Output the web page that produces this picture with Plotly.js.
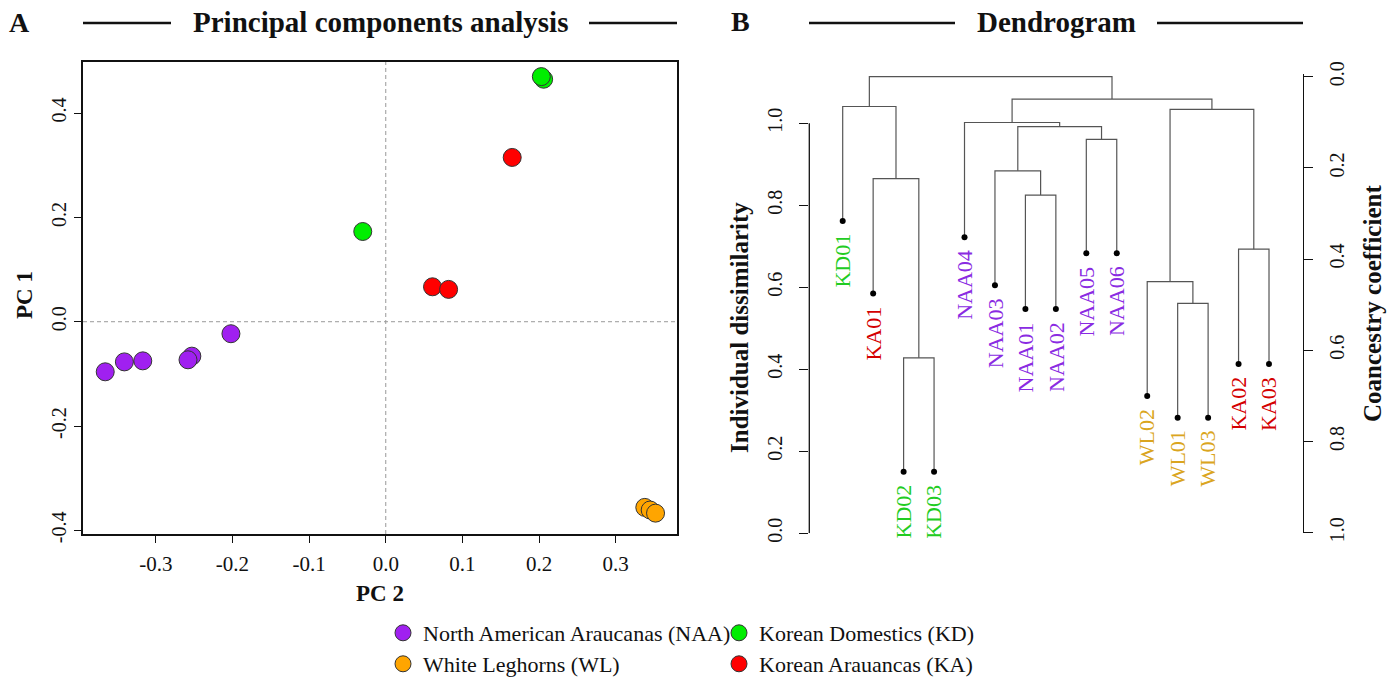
<!DOCTYPE html>
<html>
<head>
<meta charset="utf-8">
<script src="https://cdn.plot.ly/plotly-3.0.1.min.js"></script>
<style>html,body{margin:0;padding:0;background:#fff;}#chart{width:1394px;height:678px;}</style>
</head>
<body>
<div id="chart"></div>
<script>
// ---------- PCA data ----------
const groupNames = ['North American Araucanas (NAA)', 'White Leghorns (WL)', 'Korean Domestics (KD)', 'Korean Arauancas (KA)'];
const groupColors = ['#a020f0', '#ffa500', '#00ee00', '#ff0000'];
const naaPC2 = [-0.366, -0.341, -0.317, -0.253, -0.258, -0.202];
const naaPC1 = [-0.096, -0.077, -0.075, -0.066, -0.073, -0.023];
const wlPC2 = [0.338, 0.345, 0.352];
const wlPC1 = [-0.356, -0.361, -0.367];
const kdPC2 = [-0.030, 0.206, 0.203];
const kdPC1 = [0.173, 0.465, 0.470];
const kaPC2 = [0.165, 0.061, 0.082];
const kaPC1 = [0.315, 0.067, 0.062];
const pcaXTicks = [-0.3, -0.2, -0.1, 0.0, 0.1, 0.2, 0.3];
const pcaYTicks = [-0.4, -0.2, 0.0, 0.2, 0.4];

// ---------- Dendrogram data ----------
const leafLabels = ['KD01','KA01','KD02','KD03','NAA04','NAA03','NAA01','NAA02','NAA05','NAA06','WL02','WL01','WL03','KA02','KA03'];
const leafGroups = ['KD','KA','KD','KD','NAA','NAA','NAA','NAA','NAA','NAA','WL','WL','WL','KA','KA'];
const leafHeights = [0.762,0.585,0.150,0.150,0.722,0.605,0.547,0.547,0.683,0.683,0.335,0.282,0.282,0.413,0.413];
const mergeLeft  = [-3,-7,-9,-12,-14,-11,-6,-2, 7,-5, 6,-1,10,12];
const mergeRight = [-4,-8,-10,-13,-15, 4, 2, 1, 3, 9, 5, 8,11,13];
const mergeHeights = [0.428,0.825,0.961,0.561,0.693,0.614,0.884,0.865,0.992,1.002,1.034,1.041,1.059,1.114];
const dissimTicks = [0.0, 0.2, 0.4, 0.6, 0.8, 1.0];
const coanTicks = [0.0, 0.2, 0.4, 0.6, 0.8, 1.0];
const labelColors = {NAA: '#8a2be2', WL: '#daa520', KD: '#22cc22', KA: '#d40000'};

// ---------- helpers ----------
const W = 1394, H = 678;
const px = v => v / W;
const py = v => 1 - v / H;

// ---------- PCA traces ----------
const pcaSets = [[naaPC2, naaPC1, 'legend'], [wlPC2, wlPC1, 'legend2'], [kdPC2, kdPC1, 'legend'], [kaPC2, kaPC1, 'legend2']];
const traces = [];
const legendOrder = [0, 2, 1, 3];
pcaSets.forEach((s, i) => {
  traces.push({
    type: 'scatter', mode: 'markers', x: s[0], y: s[1], name: groupNames[i],
    legend: s[2], legendrank: legendOrder[i],
    marker: {size: 18, color: groupColors[i], line: {color: '#333', width: 1}},
    xaxis: 'x', yaxis: 'y', hoverinfo: 'x+y+name'
  });
});

// ---------- Dendrogram geometry ----------
const nodeX = [], nodeH = [];
function childX(c) { return c < 0 ? (-c) : nodeX[c - 1]; }
function childH(c) { return c < 0 ? leafHeights[-c - 1] : nodeH[c - 1]; }
const lx = [], ly = [];
for (let i = 0; i < mergeHeights.length; i++) {
  const a = mergeLeft[i], b = mergeRight[i];
  const xa = childX(a), xb = childX(b), ha = childH(a), hb = childH(b), h = mergeHeights[i];
  lx.push(xa, xa, xb, xb, null);
  ly.push(ha, h, h, hb, null);
  nodeX.push((xa + xb) / 2);
  nodeH.push(h);
}
const leafX = leafLabels.map((_, i) => i + 1);
traces.push({type: 'scatter', mode: 'lines', x: lx, y: ly, xaxis: 'x2', yaxis: 'y2',
  line: {color: '#555', width: 1.2}, showlegend: false, hoverinfo: 'skip'});
traces.push({type: 'scatter', mode: 'markers', x: leafX, y: leafHeights, text: leafLabels, xaxis: 'x2', yaxis: 'y2',
  marker: {color: '#000', size: 6}, showlegend: false, hoverinfo: 'text+y', cliponaxis: false});
traces.push({type: 'scatter', mode: 'markers', x: [], y: [], xaxis: 'x2', yaxis: 'y3', showlegend: false, hoverinfo: 'skip'});

// ---------- annotations ----------
const serif = 'Liberation Serif, Times New Roman, serif';
const ann = [];
function textAnn(t, x, y, size, opts) {
  ann.push(Object.assign({text: t, xref: 'paper', yref: 'paper', x: px(x), y: py(y), showarrow: false,
    xanchor: 'center', yanchor: 'middle', font: {family: serif, size: size, color: '#111'}}, opts || {}));
}
textAnn('<b>A</b>', 19, 22, 28);
textAnn('<b>Principal components analysis</b>', 380, 22, 29);
textAnn('<b>B</b>', 740.5, 21, 28);
textAnn('<b>Dendrogram</b>', 1056, 22, 29);
textAnn('<b>PC 1</b>', 24, 295, 23, {textangle: -90});
textAnn('<b>PC 2</b>', 380, 593, 23);
textAnn('<b>Individual dissimilarity</b>', 740, 328, 25, {textangle: -90});
textAnn('<b>Coancestry coefficient</b>', 1372, 304, 25, {textangle: -90});
leafLabels.forEach((lab, i) => {
  ann.push({text: lab, xref: 'x2', yref: 'y2', x: leafX[i], y: leafHeights[i], showarrow: false,
    textangle: -90, xanchor: 'center', yanchor: 'top', yshift: -11,
    font: {family: serif, size: 22, color: labelColors[leafGroups[i]]}});
});

// ---------- shapes ----------
const shapes = [];
[[83, 171], [589, 677], [809, 955], [1157, 1303]].forEach(seg => {
  shapes.push({type: 'line', xref: 'paper', yref: 'paper', x0: px(seg[0]), x1: px(seg[1]), y0: py(23), y1: py(23),
    line: {color: '#111', width: 2.6}});
});
shapes.push({type: 'line', xref: 'x', yref: 'y domain', x0: 0, x1: 0, y0: 0, y1: 1, line: {color: '#999', width: 1, dash: '4px,3px'}});
shapes.push({type: 'line', xref: 'x domain', yref: 'y', x0: 0, x1: 1, y0: 0, y1: 0, line: {color: '#999', width: 1, dash: '4px,3px'}});
shapes.push({type: 'line', xref: 'paper', yref: 'y2', x0: px(809.3), x1: px(809.3), y0: dissimTicks[0], y1: dissimTicks[dissimTicks.length - 1], line: {color: '#111', width: 1.3}});

// ---------- layout ----------
const dendTop = 1.12;                 // top of left axis range
const topPx = 533.3 - dendTop * 410;  // pixel of top of dendrogram area
const coanTop = (topPx - 76.7) / 456; // coancestry value at top
const coanBot = (533.3 - 76.7) / 456;

const tickFont = {family: serif, size: 20, color: '#111'};
const xTickFont = {family: serif, size: 21, color: '#111'};
const legendCommon = {orientation: 'h', xref: 'container', yref: 'container', x: px(383), xanchor: 'left', yanchor: 'middle',
  entrywidth: 291, entrywidthmode: 'pixels', font: {family: serif, size: 22, color: '#111'}, bgcolor: 'rgba(0,0,0,0)',
  traceorder: 'normal', itemclick: false, itemdoubleclick: false};
const layout = {
  width: W, height: H, margin: {l: 0, r: 0, t: 0, b: 0, autoexpand: false},
  paper_bgcolor: '#fff', plot_bgcolor: '#fff', showlegend: true,
  font: {family: serif, color: '#111'},
  xaxis: {domain: [px(83), px(677)], range: [-0.395, 0.380], tickvals: pcaXTicks, ticktext: pcaXTicks.map(v => v.toFixed(1)),
    ticks: 'outside', ticklen: 7, tickwidth: 1.3, tickcolor: '#111', showline: true, mirror: true, linecolor: '#111', linewidth: 1.5,
    showgrid: false, zeroline: false, tickfont: xTickFont, ticklabelstandoff: 3, anchor: 'y', fixedrange: true},
  yaxis: {domain: [py(534), py(62)], range: [-0.407, 0.498], tickvals: pcaYTicks, ticktext: pcaYTicks.map(v => v.toFixed(1)),
    ticks: 'outside', ticklen: 7, tickwidth: 1.3, tickcolor: '#111', showline: true, mirror: true, linecolor: '#111', linewidth: 1.5,
    showgrid: false, zeroline: false, tickfont: tickFont, tickangle: -90, anchor: 'x', fixedrange: true},
  xaxis2: {domain: [px(809.3), px(1303.3)], range: [-0.097, 16.126], visible: false, anchor: 'y2', fixedrange: true},
  yaxis2: {domain: [py(533.3), py(topPx)], range: [0, dendTop], anchor: 'x2', tickvals: dissimTicks, ticktext: dissimTicks.map(v => v.toFixed(1)),
    ticks: 'outside', ticklen: 9, tickwidth: 1.3, tickcolor: '#111', showline: false, showgrid: false, zeroline: false,
    tickfont: tickFont, tickangle: -90, ticklabelstandoff: 9, fixedrange: true},
  yaxis3: {domain: [py(533.3), py(topPx)], range: [coanBot, coanTop], overlaying: 'y2', side: 'right', anchor: 'x2',
    tickvals: coanTicks, ticktext: coanTicks.map(v => v.toFixed(1)),
    ticks: 'outside', ticklen: 9, tickwidth: 1.3, tickcolor: '#111', showline: true, linecolor: '#111', linewidth: 1.3,
    showgrid: false, zeroline: false, tickfont: tickFont, tickangle: -90, ticklabelstandoff: 7, fixedrange: true},
  legend: Object.assign({}, legendCommon, {y: py(633)}),
  legend2: Object.assign({}, legendCommon, {y: py(664)}),
  annotations: ann, shapes: shapes
};

Plotly.newPlot('chart', traces, layout, {displayModeBar: false, staticPlot: false});
</script>
</body>
</html>
